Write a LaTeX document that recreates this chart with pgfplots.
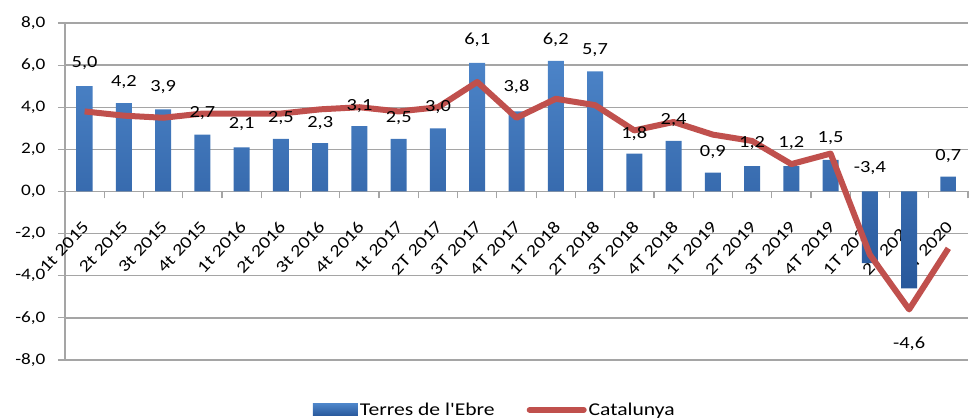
\documentclass[border=0pt]{standalone}
\usepackage{pgfplots}
\pgfplotsset{compat=1.18}
\usepackage{pgfplotstable}
\usepackage{fontspec}
\setmainfont{Carlito}[FakeStretch=1.2, Ligatures=TeXOff]
\definecolor{bartop}{RGB}{76,132,200}
\definecolor{barbot}{RGB}{40,88,155}
\definecolor{barblue}{RGB}{58,110,178}
\definecolor{catred}{RGB}{192,80,77}
\definecolor{gridgray}{RGB}{165,165,165}

\pgfplotstableread{
x y
0 5.0
1 4.2
2 3.9
3 2.7
4 2.1
5 2.5
6 2.3
7 3.1
8 2.5
9 3.0
10 6.1
11 3.8
12 6.2
13 5.7
14 1.8
15 2.4
16 0.9
17 1.2
18 1.2
19 1.5
20 -3.4
21 -4.6
22 0.7
}\ebre

\pgfplotstableread{
x y
0 3.8
1 3.6
2 3.5
3 3.7
4 3.7
5 3.7
6 3.9
7 4.0
8 3.8
9 4.0
10 5.2
11 3.5
12 4.4
13 4.1
14 2.9
15 3.3
16 2.7
17 2.4
18 1.3
19 1.8
20 -3.0
21 -5.6
22 -2.7
}\cat

\pgfplotstableread{
x y lab
0 6.1 5,0
1 5.2 4,2
2 4.95 3,9
3 3.7 2,7
4 3.2 2,1
5 3.5 2,5
6 3.25 2,3
7 4.05 3,1
8 3.5 2,5
9 4.0 3,0
10 7.2 6,1
11 4.95 3,8
12 7.2 6,2
13 6.7 5,7
14 2.75 1,8
15 3.4 2,4
16 1.87 0,9
17 2.3 1,2
18 2.3 1,2
19 2.55 1,5
20 1.1 -3,4
21 -7.25 -4,6
22 1.7 0,7
}\labs

\begin{document}
\begin{tikzpicture}
\begin{axis}[
  scale only axis,
  width=903pt, height=337pt,
  xmin=-0.5, xmax=22.5,
  ymin=-8, ymax=8,
  ytick={-8,-6,...,8},
  axis x line*=middle,
  axis y line*=left,
  axis line style={draw=gridgray, line width=1.4pt, -},
  ymajorgrids,
  grid style={draw=gridgray, line width=1.4pt},
  tick align=outside,
  tick style={draw=gridgray, line width=1.2pt},
  major tick length=7pt,
  xtick={-0.5,0.5,...,22.5},
  xticklabels={},
  extra x ticks={0,1,...,22},
  extra x tick labels={1t 2015,2t 2015,3t 2015,4t 2015,1t 2016,2t 2016,3t 2016,4t 2016,1t 2017,2T 2017,3T 2017,4T 2017,1T 2018,2T 2018,3T 2018,4T 2018,1T 2019,2T 2019,3T 2019,4T 2019,1T 2020,2T 2020,3T 2020},
  extra x tick style={major tick length=0pt, grid=none,
    xticklabel style={xshift=-3pt, yshift=-27pt, rotate=47, anchor=north east, inner sep=1pt,
      font=\fontsize{17}{17}\selectfont}},
  yticklabel style={font=\fontsize{16}{16}\selectfont, xshift=-9pt},
  /pgf/number format/.cd, fixed, fixed zerofill, precision=1, use comma, assume math mode=true,
  /pgfplots/.cd,
  clip=false,
  legend columns=2,
  legend style={at={(0.476,-0.148)}, anchor=center, draw=none, fill=none,
    font=\fontsize{18}{18}\selectfont,
    /tikz/every even column/.append style={column sep=30pt}},
  legend cell align=left,
]
\addplot[ybar, bar width=16pt, draw=none, top color=bartop, bottom color=barbot,
  legend image code/.code={\fill[barblue] (0pt,-6pt) rectangle (45pt,6pt);}]
  table[x=x,y=y]{\ebre};
\addlegendentry{Terres de l'Ebre}
\addplot[sharp plot, mark=none, draw=catred, line width=6pt, line join=round,
  legend image code/.code={\draw[catred, line width=6pt, line cap=round] (0pt,0pt) -- (54pt,0pt);}]
  table[x=x,y=y]{\cat};
\addlegendentry{Catalunya}
\addplot[draw=none, mark=none, nodes near coords, point meta=explicit symbolic,
  nodes near coords align={center},
  every node near coord/.append style={anchor=center, font=\fontsize{17}{17}\selectfont, text=black, inner sep=0pt}]
  table[x=x,y=y,meta=lab]{\labs};
\end{axis}
\pgfresetboundingbox
\path (-65pt,-59pt) rectangle (904pt,360pt);
\end{tikzpicture}
\end{document}
